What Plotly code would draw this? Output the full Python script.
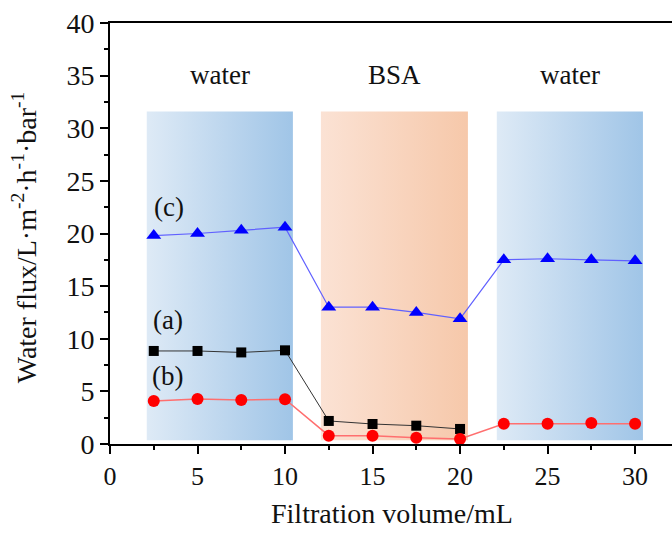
import plotly.graph_objects as go

# Filtration volume (mL) at each sampling point
volume = [2.5, 5, 7.5, 10, 12.5, 15, 17.5, 20, 22.5, 25, 27.5, 30]

# Water flux of each membrane (L·m-2·h-1·bar-1)
flux_a = [8.84, 8.84, 8.70, 8.90, 2.19, 1.90, 1.74, 1.43]
flux_b = [4.09, 4.28, 4.18, 4.25, 0.79, 0.79, 0.60, 0.48, 1.93, 1.93, 2.00, 1.93]
flux_c = [19.8, 20.0, 20.3, 20.6, 13.0, 13.0, 12.5, 11.9, 17.5, 17.6, 17.5, 17.4]

# Feed stages: label, start volume, end volume, fill colours (left -> right)
stages = [
    ("water", 2.1, 10.45, "#deeaf6", "#a0c5e7"),
    ("BSA", 12.05, 20.45, "#fbe2d4", "#f6c8aa"),
    ("water", 22.1, 30.45, "#deeaf6", "#a0c5e7"),
]
stage_top = 31.6
stage_bottom = 0.35
stage_label_y = 35.05

FONT = "Liberation Serif, Times New Roman, serif"

fig = go.Figure()

for name, x0, x1, c0, c1 in stages:
    fig.add_trace(go.Scatter(
        x=[x0, x1, x1, x0, x0],
        y=[stage_bottom, stage_bottom, stage_top, stage_top, stage_bottom],
        mode="lines", line=dict(width=0), fill="toself",
        fillgradient=dict(type="horizontal", colorscale=[[0, c0], [1, c1]]),
        hoverinfo="skip", showlegend=False,
    ))
    fig.add_annotation(x=(x0 + x1) / 2, y=stage_label_y, text=name,
                       showarrow=False, font=dict(family=FONT, size=27, color="#111"),
                       xanchor="center", yanchor="middle")

fig.add_trace(go.Scatter(
    x=volume[:len(flux_a)], y=flux_a, mode="lines+markers", name="(a)",
    line=dict(color="#333333", width=1),
    marker=dict(symbol="square", size=10, color="black"),
))
fig.add_trace(go.Scatter(
    x=volume, y=flux_b, mode="lines+markers", name="(b)",
    line=dict(color="#ff6f6f", width=1.5),
    marker=dict(symbol="circle", size=12, color="#ff0000"),
))
fig.add_trace(go.Scatter(
    x=volume, y=flux_c, mode="lines+markers", name="(c)",
    line=dict(color="#6060ff", width=1.2),
    marker=dict(symbol="triangle-up", size=13, color="#0000ff"),
))

# Curve labels
for text, xv, yv in [("(c)", 3.35, 22.5), ("(a)", 3.3, 11.8), ("(b)", 3.3, 6.45)]:
    fig.add_annotation(x=xv, y=yv, text=text, showarrow=False,
                       font=dict(family=FONT, size=27, color="#111"),
                       xanchor="center", yanchor="middle")

axis_common = dict(
    showline=True, linecolor="black", linewidth=2,
    ticks="outside", ticklen=8, tickwidth=2, tickcolor="black",
    showgrid=False, zeroline=False,
)

fig.update_xaxes(
    range=[0, 32.11], mirror=True,
    tickvals=[0, 5, 10, 15, 20, 25, 30],
    tickfont=dict(family=FONT, size=26, color="#111"),
    minor=dict(tickvals=[2.5, 7.5, 12.5, 17.5, 22.5, 27.5], ticks="outside",
               ticklen=4, tickwidth=2, tickcolor="black"),
    **axis_common,
)
fig.update_yaxes(
    range=[0, 40], tick0=0, dtick=5,
    tickfont=dict(family=FONT, size=28, color="#111"),
    minor=dict(dtick=2.5, ticks="outside", ticklen=4, tickwidth=2, tickcolor="black"),
    **axis_common,
)

# Axis titles
fig.add_annotation(xref="paper", yref="paper", x=0.502, y=-0.165,
                   text="Filtration volume/mL", showarrow=False,
                   font=dict(family=FONT, size=28, color="#111"),
                   xanchor="center", yanchor="middle")
fig.add_annotation(xref="paper", yref="paper", x=-0.152, y=0.49,
                   text="Water flux/L·m<sup>-2</sup>·h<sup>-1</sup>·bar<sup>-1</sup>",
                   textangle=-90, showarrow=False,
                   font=dict(family=FONT, size=28, color="#111"),
                   xanchor="center", yanchor="middle")

fig.update_layout(
    width=672, height=533,
    margin=dict(l=110, r=0, t=23, b=89),
    paper_bgcolor="white", plot_bgcolor="white",
    showlegend=False,
)

fig.write_html("out.html")
